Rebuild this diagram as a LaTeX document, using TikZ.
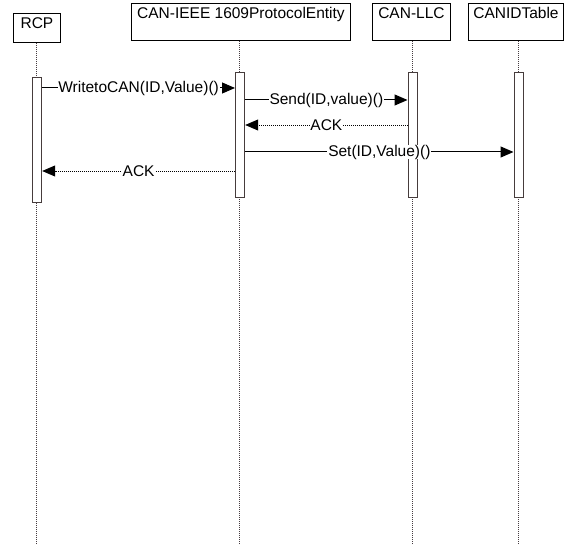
\documentclass[tikz,border=0pt]{standalone}
\usepackage{fontspec}
\setmainfont{Liberation Sans}
\usetikzlibrary{arrows.meta,calc}
\definecolor{barcol}{RGB}{70,60,60}
\definecolor{linegray}{RGB}{70,60,65}
\begin{document}
\begin{tikzpicture}[x=1pt,y=-1pt,
  font=\fontsize{15.5}{18}\selectfont,
  objbox/.style={draw=black,line width=0.9pt,anchor=north west,inner sep=0pt,align=center},
  actbar/.style={draw=barcol,fill=white,line width=1.2pt,anchor=north west,minimum width=9pt,inner sep=0pt},
  lifeline/.style={draw=linegray,line width=0.9pt,dash pattern=on 1pt off 1pt},
  callmsg/.style={draw=black,line width=1pt,-{Triangle[length=13pt,width=11pt]}},
  retmsg/.style={draw=black,line width=0.9pt,dash pattern=on 1pt off 1pt,-{Triangle[length=13pt,width=11pt]}},
  msglabel/.style={fill=white,inner xsep=0.8pt,inner ysep=0pt,text=black}
]
\useasboundingbox (0,0) rectangle (567,545);

% object boxes
\node[objbox,minimum width=47pt,text height=15.5pt,text depth=13.5pt] (rcp) at (13,13) {RCP};
\node[objbox,minimum width=219pt,text height=15pt,text depth=22pt] (pe) at (131,3) {CAN-IEEE 1609ProtocolEntity};
\node[objbox,minimum width=78pt,text height=15pt,text depth=22pt] (llc) at (372,3) {CAN-LLC};
\node[objbox,minimum width=95pt,text height=15pt,text depth=22pt] (tbl) at (468,3) {CANIDTable};

% lifelines
\draw[lifeline] (36.5,0 |- rcp.south) -- (36.5,545);
\draw[lifeline] (239.5,0 |- pe.south) -- (239.5,545);
\draw[lifeline] (412,0 |- llc.south) -- (412,545);
\draw[lifeline] (518,0 |- tbl.south) -- (518,545);

% activation bars
\node[actbar,minimum height=125pt] (rcpbar) at (32,77) {};
\node[actbar,minimum height=125pt] (pebar) at (235,72) {};
\node[actbar,minimum height=125pt] (llcbar) at (407.5,72) {};
\node[actbar,minimum height=125pt] (tblbar) at (513.5,72) {};

% messages
\draw[callmsg] (rcpbar.east |- 0,88) -- node[msglabel] (m1) {WritetoCAN(ID,Value)()} (pebar.west |- 0,88);
\draw[callmsg] (pebar.east |- 0,100) -- node[msglabel] (m2) {Send(ID,value)()} (llcbar.west |- 0,100);
\draw[retmsg] (llcbar.west |- 0,125) -- node[msglabel] (m3) {ACK} (pebar.east |- 0,125);
\draw[callmsg] (pebar.east |- 0,152) -- node[msglabel] (m4) {Set(ID,Value)()} (tblbar.west |- 0,152);
\draw[retmsg] (pebar.west |- 0,171) -- node[msglabel] (m5) {ACK} (rcpbar.east |- 0,171);
\end{tikzpicture}
\end{document}
